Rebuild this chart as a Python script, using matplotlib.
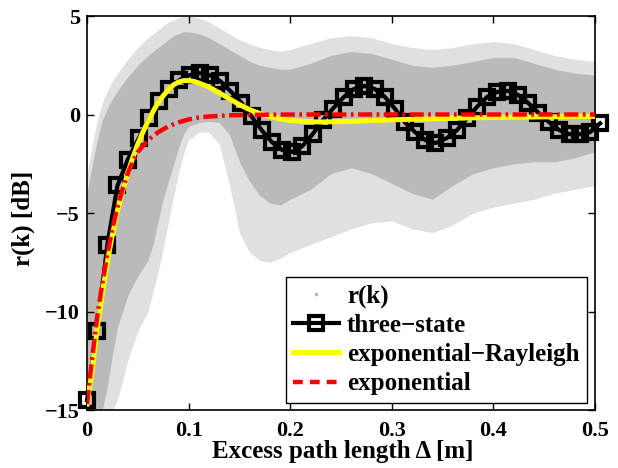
import matplotlib
matplotlib.use("Agg")
import matplotlib.pyplot as plt
from matplotlib.lines import Line2D

plt.rcParams['font.family'] = ['Liberation Serif', 'DejaVu Serif']
plt.rcParams['font.weight'] = 'bold'
plt.rcParams['mathtext.default'] = 'regular'

env_x = [0.000, 0.005, 0.010, 0.015, 0.020, 0.025, 0.030, 0.040, 0.050, 0.060,
         0.065, 0.070, 0.075, 0.080, 0.085, 0.090, 0.095, 0.100, 0.110, 0.120,
         0.130, 0.140, 0.150, 0.160, 0.170, 0.180, 0.190, 0.200, 0.220, 0.240,
         0.260, 0.280, 0.300, 0.320, 0.340, 0.360, 0.380, 0.400, 0.420, 0.440,
         0.460, 0.480, 0.500]
dense_hi = [-4.0, -2.6, -1.3, -0.3, 0.3, 0.8, 1.2, 1.9, 2.5, 3.0,
            3.2, 3.4, 3.6, 3.8, 4.0, 4.1, 4.2, 4.2, 4.1, 3.9,
            3.6, 3.3, 3.0, 2.7, 2.5, 2.4, 2.3, 2.3, 2.6, 3.0,
            3.2, 3.1, 2.8, 2.5, 2.4, 2.5, 2.7, 2.9, 2.9, 2.6,
            2.3, 2.1, 2.0]
dense_lo = [-15.0, -15.0, -15.0, -15.0, -13.8, -12.2, -10.8, -9.2, -8.2, -7.4,
            -6.6, -5.4, -4.3, -3.4, -2.6, -1.7, -1.0, -0.6, -0.4, -0.35,
            -0.4, -1.0, -2.4, -3.4, -4.1, -4.5, -4.6, -4.3, -3.8, -3.0,
            -2.7, -3.0, -3.5, -4.0, -4.3, -3.6, -3.0, -2.7, -2.5, -2.4,
            -2.4, -2.2, -1.9]
sparse_hi = [-3.0, -1.6, -0.3, 0.6, 1.2, 1.7, 2.1, 2.8, 3.4, 3.9,
             4.1, 4.3, 4.5, 4.7, 4.8, 4.9, 5.0, 5.0, 4.9, 4.7,
             4.4, 4.1, 3.8, 3.6, 3.4, 3.3, 3.2, 3.3, 3.6, 3.9,
             4.0, 3.9, 3.6, 3.4, 3.3, 3.4, 3.6, 3.7, 3.6, 3.3,
             3.0, 2.8, 2.7]
sparse_lo = [-15.0, -15.0, -15.0, -15.0, -15.0, -15.0, -14.5, -12.5, -11.0, -10.0,
             -9.0, -8.0, -6.8, -5.5, -4.2, -3.0, -2.0, -1.3, -0.9, -0.9,
             -1.5, -3.5, -6.0, -7.0, -7.4, -7.5, -7.3, -7.0, -6.6, -6.2,
             -5.8, -5.5, -5.4, -5.8, -6.0, -5.6, -5.0, -4.7, -4.5, -4.3,
             -4.0, -3.8, -3.6]

# ---- three-state model
three_x = [0.000, 0.010, 0.020, 0.030, 0.040, 0.051, 0.061, 0.071, 0.081, 0.091,
           0.101, 0.111, 0.121, 0.131, 0.141, 0.152, 0.162, 0.172, 0.182, 0.192,
           0.202, 0.212, 0.222, 0.232, 0.242, 0.253, 0.263, 0.273, 0.283, 0.293,
           0.303, 0.313, 0.323, 0.333, 0.343, 0.354, 0.364, 0.374, 0.384, 0.394,
           0.404, 0.414, 0.424, 0.434, 0.444, 0.455, 0.465, 0.475, 0.485, 0.495,
           0.505]
three_y = [-14.5, -11.0, -6.6, -3.6, -2.3, -1.2, -0.2, 0.7, 1.3, 1.75,
           2.0, 2.1, 2.0, 1.7, 1.2, 0.6, -0.1, -0.8, -1.4, -1.8,
           -1.9, -1.6, -1.0, -0.3, 0.3, 0.9, 1.3, 1.45, 1.3, 0.9,
           0.3, -0.4, -0.9, -1.3, -1.45, -1.2, -0.8, -0.2, 0.4, 0.9,
           1.15, 1.2, 1.0, 0.6, 0.1, -0.4, -0.8, -1.0, -1.0, -0.9,
           -0.45]

# ---- exponential-Rayleigh model
er_x = [0.000, 0.005, 0.010, 0.015, 0.020, 0.025, 0.030, 0.035, 0.040, 0.045,
        0.050, 0.055, 0.060, 0.065, 0.070, 0.075, 0.080, 0.085, 0.090, 0.095,
        0.100, 0.105, 0.110, 0.120, 0.130, 0.140, 0.150, 0.160, 0.170, 0.180,
        0.190, 0.200, 0.215, 0.230, 0.250, 0.275, 0.300, 0.350, 0.400, 0.450,
        0.500]
er_y = [-14.7, -13.0, -10.9, -9.1, -7.5, -6.1, -4.9, -3.9, -3.0, -2.2,
        -1.5, -0.9, -0.35, 0.15, 0.6, 0.95, 1.25, 1.5, 1.65, 1.72,
        1.72, 1.68, 1.6, 1.4, 1.1, 0.8, 0.5, 0.25, 0.05, -0.1,
        -0.22, -0.3, -0.36, -0.38, -0.36, -0.32, -0.27, -0.2, -0.15, -0.12,
        -0.1]

# ---- exponential model
ex_x = [0.000, 0.005, 0.010, 0.015, 0.020, 0.025, 0.030, 0.035, 0.040, 0.045,
        0.050, 0.060, 0.070, 0.080, 0.090, 0.100, 0.110, 0.120, 0.140, 0.160,
        0.200, 0.300, 0.400, 0.500]
ex_y = [-14.7, -12.4, -10.3, -8.6, -7.1, -5.8, -4.7, -3.8, -3.0, -2.4,
        -1.9, -1.3, -0.9, -0.6, -0.4, -0.25, -0.15, -0.1, -0.04, -0.02,
        0.0, 0.0, 0.0, 0.0]

labels = ['r(k)', 'three\u2212state', 'exponential\u2212Rayleigh', 'exponential']
x_ticks = [0, 0.1, 0.2, 0.3, 0.4, 0.5]
x_ticklabels = ['0', '0.1', '0.2', '0.3', '0.4', '0.5']
y_ticks = [-15, -10, -5, 0, 5]

gray = '#b3b3b3'

fig = plt.figure(figsize=(6.18, 4.68), dpi=100)
ax = fig.add_axes([0.1408, 0.1239, 0.8220, 0.8419])

ax.fill_between(env_x, sparse_lo, sparse_hi, color='#e0e0e0', lw=0, zorder=1)
ax.fill_between(env_x, dense_lo, dense_hi, color='#bababa', lw=0, zorder=1.5)

ax.plot(three_x, three_y, color='black', lw=3.0, marker='s', ms=10.5,
        mfc='none', mec='black', mew=3.0, zorder=3, clip_on=False)
ax.plot(er_x, er_y, color='#ffff00', lw=3.6, zorder=4)
ax.plot(ex_x, ex_y, color='#ff0000', lw=3.2, zorder=5,
        linestyle=(0, (3.2, 1.0, 0.6, 1.0)))

ax.set_xlim(0, 0.5)
ax.set_ylim(-15, 5)
ax.set_xticks(x_ticks)
ax.set_xticklabels(x_ticklabels)
ax.set_yticks(y_ticks)
ax.tick_params(direction='in', top=True, right=True, labelsize=16, length=5, width=1)
ax.tick_params(axis='x', pad=8)
ax.tick_params(axis='y', pad=5)
for s in ax.spines.values():
    s.set_linewidth(1.2)
ax.set_xlabel('Excess path length \u0394 [m]', fontsize=18, fontweight='bold')
ax.set_ylabel('r(k) [dB]', fontsize=18, fontweight='bold')
ax.xaxis.set_label_coords(0.503, -0.077)
ax.yaxis.set_label_coords(-0.103, 0.487)

handles = [
    Line2D([], [], ls='none', marker='.', ms=3, color=gray),
    Line2D([], [], color='black', lw=3.0, marker='s', ms=10.5, mfc='none', mew=3.0),
    Line2D([], [], color='#ffff00', lw=3.6),
    Line2D([], [], color='#ff0000', lw=3.2, ls=(0, (2.2, 1.6))),
]
leg = ax.legend(handles, labels, loc='lower right', bbox_to_anchor=(0.984, 0.018),
                borderaxespad=0, fancybox=False, framealpha=1, edgecolor='black',
                prop={'size': 18, 'weight': 'bold'}, handlelength=1.85,
                handletextpad=0.3, labelspacing=0.25, borderpad=0.3)
leg.get_frame().set_linewidth(1.0)
leg.set_zorder(10)

fig.savefig('out.png', dpi=100)
